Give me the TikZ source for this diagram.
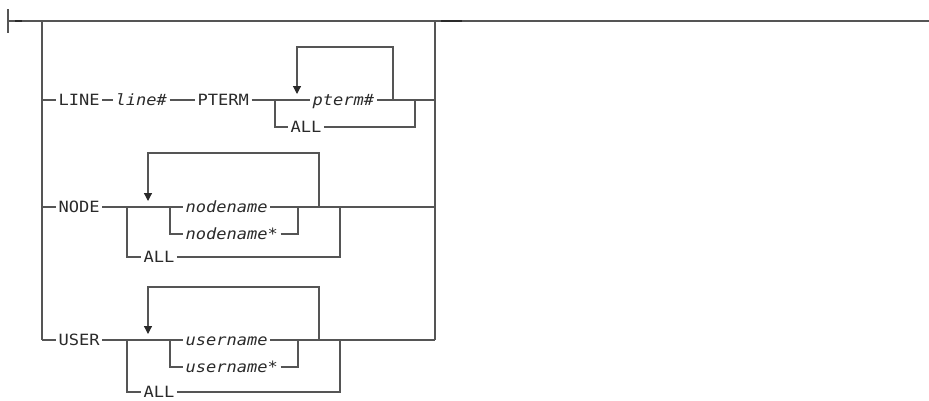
\documentclass[tikz,border=0pt]{standalone}
\usepackage{fontspec}
\newfontfamily\rrfont[FakeStretch=1.1]{DejaVu Sans Mono}
\usetikzlibrary{arrows.meta}
\definecolor{rail}{HTML}{555555}
\definecolor{ink}{HTML}{2A2A2A}
\begin{document}
\begin{tikzpicture}[x=1pt,y=-1pt,
  color=rail, line width=1.2pt,
  kw/.style={font=\rrfont\fontsize{15.5}{15.5}\selectfont,text=ink,inner xsep=2pt,inner ysep=0pt,
    text height=11pt,text depth=0pt,anchor=west},
  var/.style={kw,font=\rrfont\itshape\fontsize{15.5}{15.5}\selectfont},
  backloop/.style={-{Triangle[width=8pt,length=8pt,fill=ink,color=ink]}},
  thickseg/.style={draw=ink,line width=2pt}]
\useasboundingbox (0,0) rectangle (929,400);
% main line
\coordinate (st1) at (8,9); \coordinate (st2) at (8,33);
\coordinate (s) at (8,21); \coordinate (e) at (929,21);
\coordinate (m1a) at (15,21); \coordinate (m1b) at (22,21);
\coordinate (m2a) at (441,21); \coordinate (m2b) at (462,21);
\draw (st1) -- (st2);
\draw (s) -- (e);
\draw[thickseg] (m1a) -- (m1b);
\draw[thickseg] (m2a) -- (m2b);
% rails
\coordinate (lt) at (42,21); \coordinate (rt) at (435,21);
\coordinate (lb) at (42,340); \coordinate (rb) at (435,340);
\draw (lt) -- (lb);
\draw (rt) -- (rb);
% LINE row
\coordinate (l1) at (42,100); \coordinate (r1) at (435,100);
\node[kw] (line) at (56,100) {LINE};
\node[var] (linen) at (113,100) {line\#};
\node[kw] (pterm) at (195,100) {PTERM};
\coordinate (b1) at (275,100);
\node[var] (ptermn) at (310,100) {pterm\#};
\coordinate (j1) at (415,100);
\node[kw] (all1) at (288,127) {ALL};
\coordinate (lp1r) at (393,100); \coordinate (lp1t) at (297,47); \coordinate (lp1a) at (297,94);
\draw (l1) -- (line.west);
\draw (line.east) -- (linen.west);
\draw (linen.east) -- (pterm.west);
\draw (pterm.east) -- (b1) -- (ptermn.west);
\draw (ptermn.east) -- (r1);
\draw (b1) |- (all1.west);
\draw (all1.east) -| (j1);
\draw[backloop] (lp1r) |- (lp1t) -- (lp1a);
% NODE row
\coordinate (l2) at (42,207); \coordinate (r2) at (435,207);
\node[kw] (node) at (56,207) {NODE};
\coordinate (b2) at (127,207);
\coordinate (b2i) at (170,207);
\node[var] (nn) at (183,207) {nodename};
\node[var] (nns) at (183,234) {nodename*};
\coordinate (j2i) at (298,207);
\coordinate (j2o) at (340,207);
\node[kw] (all2) at (141,257) {ALL};
\coordinate (lp2r) at (319,207); \coordinate (lp2t) at (148,153); \coordinate (lp2a) at (148,201);
\draw (l2) -- (node.west);
\draw (node.east) -- (b2) -- (b2i) -- (nn.west);
\draw (nn.east) -- (r2);
\draw (b2i) |- (nns.west);
\draw (nns.east) -| (j2i);
\draw (b2) |- (all2.west);
\draw (all2.east) -| (j2o);
\draw[backloop] (lp2r) |- (lp2t) -- (lp2a);
% USER row
\node[kw] (user) at (56,340) {USER};
\coordinate (b3) at (127,340);
\coordinate (b3i) at (170,340);
\node[var] (un) at (183,340) {username};
\node[var] (uns) at (183,367) {username*};
\coordinate (j3i) at (298,340);
\coordinate (j3o) at (340,340);
\node[kw] (all3) at (141,392) {ALL};
\coordinate (lp3r) at (319,340); \coordinate (lp3t) at (148,287); \coordinate (lp3a) at (148,334);
\draw (lb) -- (user.west);
\draw (user.east) -- (b3) -- (b3i) -- (un.west);
\draw (un.east) -- (rb);
\draw (b3i) |- (uns.west);
\draw (uns.east) -| (j3i);
\draw (b3) |- (all3.west);
\draw (all3.east) -| (j3o);
\draw[backloop] (lp3r) |- (lp3t) -- (lp3a);
\end{tikzpicture}
\end{document}
